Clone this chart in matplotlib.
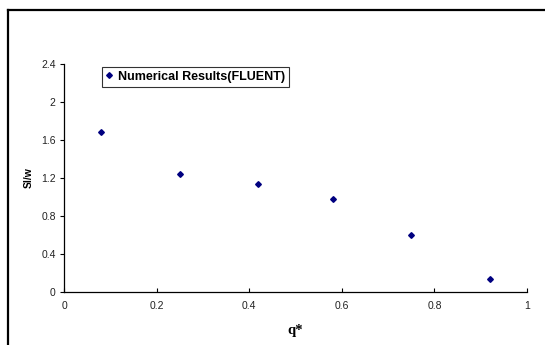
import matplotlib
matplotlib.use("Agg")
import matplotlib.pyplot as plt
from matplotlib.lines import Line2D

q_star = [0.08, 0.25, 0.42, 0.58, 0.75, 0.921]
sl_w = [1.68, 1.24, 1.14, 0.974, 0.60, 0.137]
x_ticks = [0, 0.2, 0.4, 0.6, 0.8, 1]
y_ticks = [0, 0.4, 0.8, 1.2, 1.6, 2, 2.4]
series_label = "Numerical Results(FLUENT)"

W, H = 545, 345
fig = plt.figure(figsize=(W / 100, H / 100), dpi=100)
fig.patch.set_facecolor("white")

ax = fig.add_axes([64 / W, 1 - 291.7 / H, (527 - 64) / W, (291.7 - 64) / H])
ax.plot(q_star, sl_w, linestyle="none", marker="D", markersize=2.9,
        color="#000080", label=series_label)

ax.set_xlim(0, 1)
ax.set_ylim(0, 2.4)
ax.set_xticks(x_ticks)
ax.set_xticklabels([f"{t:g}" for t in x_ticks])
ax.set_yticks(y_ticks)
ax.set_yticklabels([f"{t:g}" for t in y_ticks])

for s in ("top", "right"):
    ax.spines[s].set_visible(False)
for s in ("left", "bottom"):
    ax.spines[s].set_linewidth(0.9)
    ax.spines[s].set_color("black")

ax.tick_params(axis="x", direction="in", length=3, width=0.8, pad=7,
               labelsize=7.5, labelcolor="#222222")
ax.tick_params(axis="y", direction="out", length=3, width=0.8, pad=3,
               labelsize=7.5, labelcolor="#222222")
for lbl in ax.get_xticklabels() + ax.get_yticklabels():
    lbl.set_fontfamily("Liberation Sans")

ax.set_xlabel("q*", fontfamily="Liberation Serif", fontweight="bold",
              fontsize=10.5, labelpad=9)
ax.set_ylabel("Sl/w", fontfamily="Liberation Sans", fontweight="bold",
              fontsize=7.5, labelpad=5)

leg = ax.legend(loc="upper left", bbox_to_anchor=((102 - 64) / 463, 1 - (67 - 64) / 227.7),
                frameon=True, fancybox=False, borderpad=0.3, handlelength=0.5,
                handletextpad=0.45, borderaxespad=0,
                prop={"family": "Liberation Sans", "weight": "bold", "size": 9})
leg.get_frame().set_edgecolor("black")
leg.get_frame().set_linewidth(0.8)

# outer frame lines along the top and left edges
fig.add_artist(Line2D([7.5 / W, 1], [1 - 10 / H, 1 - 10 / H],
                      transform=fig.transFigure, color="black", linewidth=1.6))
fig.add_artist(Line2D([7.5 / W, 7.5 / W], [0, 1 - 10 / H],
                      transform=fig.transFigure, color="black", linewidth=1.6))

fig.savefig("out.png", dpi=100)
